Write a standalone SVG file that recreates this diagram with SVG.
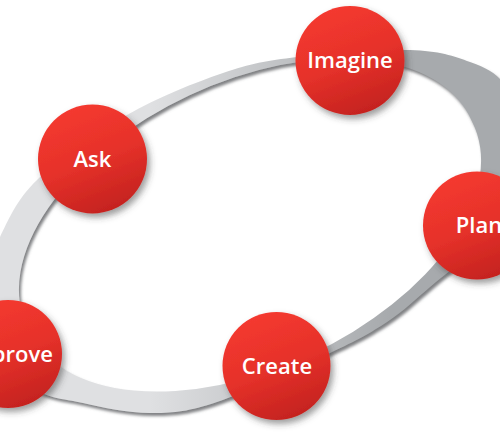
<svg xmlns="http://www.w3.org/2000/svg" width="500" height="435" viewBox="0 0 500 435">
<style>
.node circle{fill:url(#red);filter:url(#cshadow)}
.node text{font-family:"Open Sans","Liberation Sans",sans-serif;font-weight:600;font-size:22px;fill:#ffffff;text-anchor:middle}
</style>
<defs>
<linearGradient id="red" x1="0.3" y1="0" x2="0.7" y2="1">
<stop offset="0" stop-color="#f53a30"/>
<stop offset="0.5" stop-color="#e6312a"/>
<stop offset="1" stop-color="#c2221e"/>
</linearGradient>
<linearGradient id="ringGrad" gradientUnits="userSpaceOnUse" x1="150" y1="0" x2="390" y2="0">
<stop offset="0" stop-color="#dfe0e2"/>
<stop offset="1" stop-color="#a7aaad"/>
</linearGradient>
<filter id="cshadow" x="-30%" y="-30%" width="160%" height="160%">
<feDropShadow dx="3" dy="4" stdDeviation="3" flood-color="#3a3a3a" flood-opacity="0.5"/>
</filter>
<filter id="rshadow" x="-10%" y="-10%" width="120%" height="120%">
<feDropShadow dx="2" dy="3" stdDeviation="1.5" flood-color="#6a6c6e" flood-opacity="0.85"/>
</filter>
</defs>
<rect width="500" height="435" fill="#ffffff"/>
<g id="connectors">
<path fill="url(#ringGrad)" fill-rule="evenodd" filter="url(#rshadow)" d="M297,57 C328.2,53.2 381.2,49.2 410,50 C438.8,50.8 454.2,56.2 470,62 C485.8,67.8 495.3,72 505,85 C514.7,98 525.2,122.5 528,140 C530.8,157.5 531.7,171.3 522,190 C512.3,208.7 485.3,235.8 470,252 C454.7,268.2 443.8,275.3 430,287 C416.2,298.7 403.7,311 387,322 C370.3,333 358.3,339.7 330,353 C301.7,366.3 247,392 217,402 C187,412 172.3,413.2 150,413 C127.7,412.8 103,407.7 83,403 C63,398.3 44.7,398.8 30,385 C15.3,371.2 1.3,339.2 -5,320 C-11.3,300.8 -8.8,283.8 -8,270 C-7.2,256.2 -7.5,252 0,237 C7.5,222 15.8,200.3 37,180 C58.2,159.7 96,132.8 127,115 C158,97.2 194.7,82.7 223,73 C251.3,63.3 265.8,60.8 297,57 Z M472,121.5 A245,140 -25 1 0 28,328.5 A245,140 -25 1 0 472,121.5 Z"/>
</g>
<g id="node-imagine" class="node">
<circle cx="350" cy="60.5" r="54.5"/>
<text x="350" y="68">Imagine</text>
</g>
<g id="node-ask" class="node">
<circle cx="92.5" cy="159" r="54.5"/>
<text x="92.5" y="166.5">Ask</text>
</g>
<g id="node-plan" class="node">
<circle cx="477" cy="225.5" r="54"/>
<text x="479" y="233">Plan</text>
</g>
<g id="node-improve" class="node">
<circle cx="8" cy="354" r="54"/>
<text x="8.5" y="361.5">Improve</text>
</g>
<g id="node-create" class="node">
<circle cx="276.5" cy="366" r="54"/>
<text x="277" y="373.5">Create</text>
</g>
</svg>
